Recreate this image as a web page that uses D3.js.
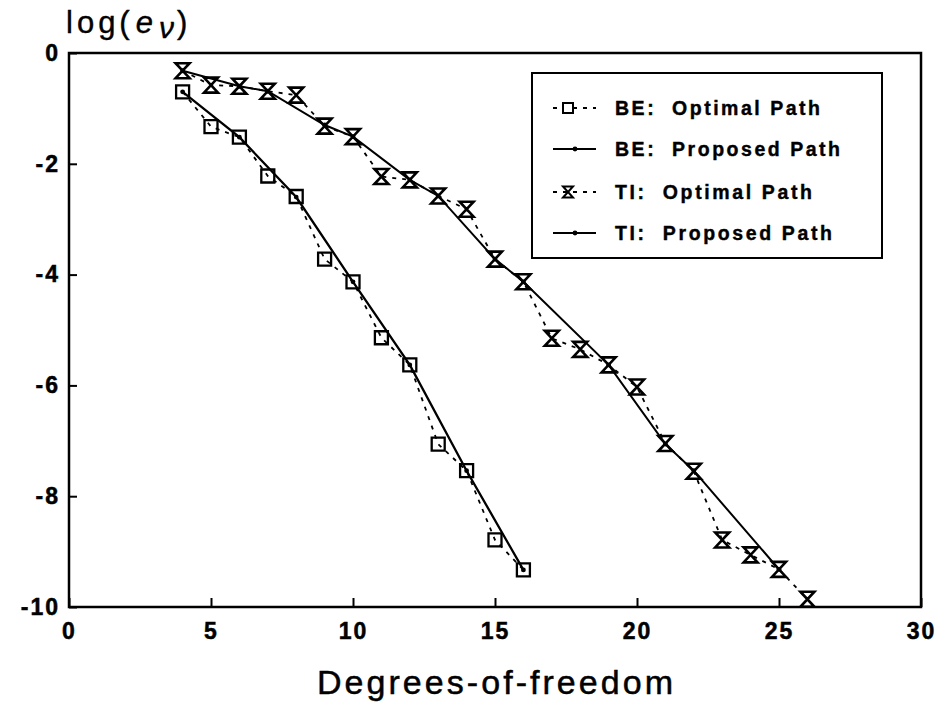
<!DOCTYPE html>
<html><head><meta charset="utf-8">
<script src="https://cdn.jsdelivr.net/npm/d3@7"></script>
<style>body{margin:0;background:#fff}svg{display:block}</style>
</head><body><svg id="chart" width="946" height="703"></svg>
<script>
// ---- data ----
const beOptX = [4,5,6,7,8,9,10,11,12,13,14,15,16];
const beOptY = [-0.70,-1.33,-1.52,-2.22,-2.59,-3.72,-4.13,-5.14,-5.63,-7.06,-7.54,-8.79,-9.33];
const bePropX = [4,6,8,10,12,14,16];
const bePropY = [-0.70,-1.52,-2.60,-4.13,-5.63,-7.54,-9.33];
const tiOptX = [4,5,6,7,8,9,10,11,12,13,14,15,16,17,18,19,20,21,22,23,24,25,26];
const tiOptY = [-0.32,-0.58,-0.60,-0.69,-0.76,-1.32,-1.51,-2.23,-2.29,-2.58,-2.82,-3.72,-4.13,-5.15,-5.35,-5.63,-6.03,-7.05,-7.55,-8.79,-9.06,-9.32,-9.86];
const tiPropX = [4,6,7,9,10,12,13,15,16,19,21,22,25];
const tiPropY = [-0.32,-0.60,-0.69,-1.30,-1.51,-2.29,-2.58,-3.72,-4.13,-5.63,-7.06,-7.54,-9.32];
const xTicks = [0,5,10,15,20,25,30];
const yTicks = [0,-2,-4,-6,-8,-10];
const legendLabels = ["BE:  Optimal Path","BE:  Proposed Path","TI:  Optimal Path","TI:  Proposed Path"];
const xTitle = "Degrees-of-freedom";

const svg = d3.select("#chart");
const x = d3.scaleLinear().domain([0,30]).range([69,921]);
const y = d3.scaleLinear().domain([-10,0]).range([607,53]);
const FONT = "'Liberation Sans', Arial, sans-serif";

const zip = (xs, ys) => xs.map((v,i)=>[v, ys[i]]);
const beOpt = zip(beOptX, beOptY), beProp = zip(bePropX, bePropY);
const tiOpt = zip(tiOptX, tiOptY), tiProp = zip(tiPropX, tiPropY);
const line = d3.line().x(d=>x(d[0])).y(d=>y(d[1]));

// axes
const xAxis = d3.axisBottom(x).tickValues(xTicks).tickSizeInner(-9).tickSizeOuter(0).tickPadding(16).tickFormat(d=>String(d));
const gx = svg.append("g").attr("transform",`translate(0,${y(-10)})`).call(xAxis);
const yAxis = d3.axisLeft(y).tickValues(yTicks).tickSizeInner(-8).tickSizeOuter(0).tickPadding(11).tickFormat(d=>String(d));
const gy = svg.append("g").attr("transform",`translate(${x(0)},0)`).call(yAxis);
[gx,gy].forEach(g=>{
  g.select(".domain").remove();
  g.selectAll(".tick line").attr("stroke","#000").attr("stroke-width",2);
  g.selectAll(".tick text").attr("fill","#000").style("font-family",FONT).style("font-weight","bold").style("font-size","23px").style("letter-spacing","2px")
    .attr("stroke","#000").attr("stroke-width",0.5);
});
gy.selectAll(".tick text").attr("dx","2px");

// frame
svg.append("rect").attr("x",x(0)).attr("y",y(0)).attr("width",x(30)-x(0)).attr("height",y(-10)-y(0))
  .attr("fill","none").attr("stroke","#000").attr("stroke-width",2.5);

// lines
const dash = "4,6";
svg.append("path").datum(beOpt).attr("d",line).attr("fill","none").attr("stroke","#000").attr("stroke-width",1.8).attr("stroke-dasharray",dash);
svg.append("path").datum(tiOpt).attr("d",line).attr("fill","none").attr("stroke","#000").attr("stroke-width",1.8).attr("stroke-dasharray",dash);
svg.append("path").datum(beProp).attr("d",line).attr("fill","none").attr("stroke","#000").attr("stroke-width",2.3);
svg.append("path").datum(tiProp).attr("d",line).attr("fill","none").attr("stroke","#000").attr("stroke-width",2);

// markers
function squarePath(s){ const h=s/2; return `M${-h},${-h}H${h}V${h}H${-h}Z`; }
function hourglassPath(w,h){ const a=w/2,b=h/2; return `M${-a},${-b}H${a}L${-a},${b}H${a}Z`; }
svg.append("g").selectAll("path").data(beOpt).join("path")
  .attr("transform",d=>`translate(${x(d[0])},${y(d[1])})`).attr("d",squarePath(13))
  .attr("fill","none").attr("stroke","#000").attr("stroke-width",2.3);
svg.append("g").selectAll("path").data(tiOpt).join("path")
  .attr("transform",d=>`translate(${x(d[0])},${y(d[1])})`).attr("d",hourglassPath(14,15))
  .attr("fill","none").attr("stroke","#000").attr("stroke-width",2.6).attr("stroke-linejoin","miter");
svg.append("g").selectAll("circle").data(beProp.concat(tiProp)).join("circle")
  .attr("cx",d=>x(d[0])).attr("cy",d=>y(d[1])).attr("r",2.4).attr("fill","#000");

// y title
const yt = svg.append("text").attr("x",66).attr("y",33).style("font-family",FONT).style("font-size","31px").attr("fill","#000")
  .attr("stroke","#000").attr("stroke-width",0.4);
yt.append("tspan").style("letter-spacing","4px").text("log(");
yt.append("tspan").style("font-style","italic").attr("dx",2).text("e");
yt.append("tspan").style("font-style","italic").attr("dy",5).attr("dx",6).style("font-size","30px").text("ν");
yt.append("tspan").attr("dy",-5).attr("dx",3).text(")");

// x title
svg.append("text").attr("x",(x(0)+x(30))/2).attr("y",694).attr("text-anchor","middle")
  .style("font-family",FONT).style("font-size","34px").attr("fill","#000").attr("stroke","#000").attr("stroke-width",0.5)
  .attr("textLength",356).attr("lengthAdjust","spacing").text(xTitle);

// legend
svg.append("rect").attr("x",532).attr("y",73).attr("width",350).attr("height",185)
  .attr("fill","#fff").attr("stroke","#000").attr("stroke-width",2);
const rowsY = [108,149,192,233];
const textW = [205,225,197,217];
const lg = svg.append("g");
rowsY.forEach((ry,i)=>{
  const isOpt = i%2===0;
  if(isOpt){
    lg.append("line").attr("x1",553).attr("x2",596).attr("y1",ry).attr("y2",ry)
      .attr("stroke","#000").attr("stroke-width",1.8).attr("stroke-dasharray","4,6");
    lg.append("path").attr("transform",`translate(568,${ry})`)
      .attr("d", i===0 ? squarePath(10) : hourglassPath(10,11))
      .attr("fill","#fff").attr("stroke","#000").attr("stroke-width",2);
  } else {
    lg.append("line").attr("x1",553).attr("x2",596).attr("y1",ry).attr("y2",ry)
      .attr("stroke","#000").attr("stroke-width",2.2);
    lg.append("circle").attr("cx",575).attr("cy",ry).attr("r",2.4).attr("fill","#000");
  }
  lg.append("text").attr("x",615).attr("y",ry+7).style("font-family",FONT).style("font-weight","bold")
    .style("font-size","19.5px").attr("fill","#000").attr("stroke","#000").attr("stroke-width",0.4)
    .attr("xml:space","preserve").style("white-space","pre")
    .attr("textLength",textW[i]).attr("lengthAdjust","spacing").text(legendLabels[i]);
});
</script></body></html>
